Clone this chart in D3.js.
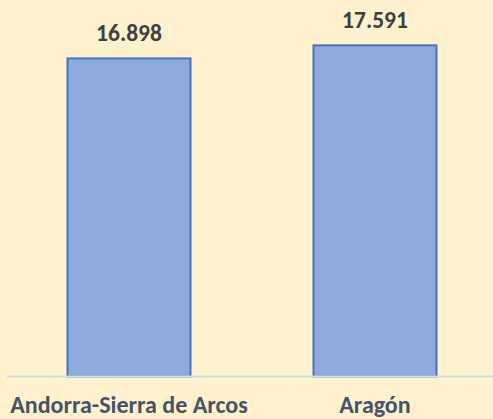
<!DOCTYPE html>
<html><head><meta charset="utf-8">
<script src="https://cdn.jsdelivr.net/npm/d3@7"></script>
<style>html,body{margin:0;padding:0;background:#FFF2CC;}svg{display:block;}</style>
</head><body>
<script>
const categories = ["Andorra-Sierra de Arcos", "Aragón"];
const values = [16898, 17591];
const yMax = 20000;

const W = 493, H = 419;
const svg = d3.select("body").append("svg").attr("width", W).attr("height", H);
svg.append("rect").attr("width", W).attr("height", H).attr("fill", "#FFF2CC");

const x = d3.scaleBand().domain(categories).range([6, 498]).paddingInner(0.5).paddingOuter(0.25);
const y = d3.scaleLinear().domain([0, yMax]).range([376.5, 0]);
const fmt = d3.formatLocale({decimal: ",", thousands: ".", grouping: [3], currency: ["", "€"]}).format(",d");
const font = "Calibri, Carlito, 'Open Sans', sans-serif";

svg.selectAll("rect.bar").data(values).enter().append("rect").attr("class", "bar")
  .attr("x", (d, i) => x(categories[i]))
  .attr("y", d => y(d))
  .attr("width", x.bandwidth())
  .attr("height", d => y(0) - y(d))
  .attr("fill", "#8FAADC").attr("stroke", "#4472C4").attr("stroke-width", 2);

svg.append("line").attr("x1", 7).attr("x2", W).attr("y1", y(0)).attr("y2", y(0))
  .attr("stroke", "#D6DCE8").attr("stroke-width", 2);

svg.selectAll("text.val").data(values).enter().append("text").attr("class", "val")
  .attr("x", (d, i) => x(categories[i]) + x.bandwidth() / 2)
  .attr("y", d => y(d) - 17)
  .attr("text-anchor", "middle").attr("font-family", font).attr("font-weight", "bold")
  .attr("font-size", 23.5).attr("fill", "#404040").text(d => fmt(d));

svg.selectAll("text.cat").data(categories).enter().append("text").attr("class", "cat")
  .attr("x", d => x(d) + x.bandwidth() / 2)
  .attr("y", 413)
  .attr("text-anchor", "middle").attr("font-family", font).attr("font-weight", "bold")
  .attr("font-size", 24).attr("fill", "#44546A").text(d => d);
</script>
</body></html>
